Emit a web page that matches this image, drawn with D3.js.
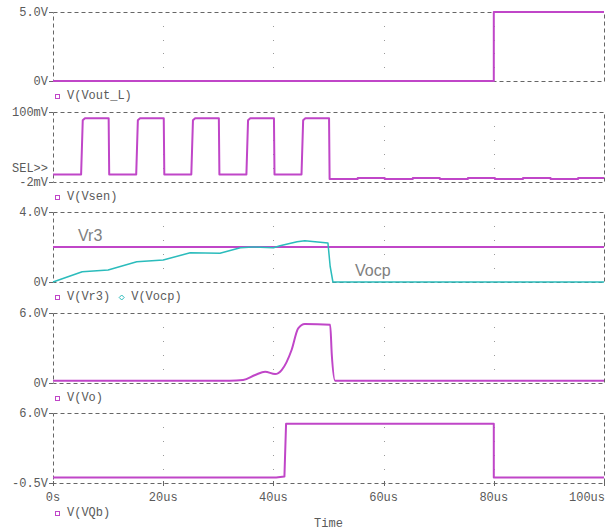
<!DOCTYPE html>
<html lang="en">
<head>
<meta charset="UTF-8">
<title>Transient traces</title>
<style type="text/css">
    body { margin: 0; padding: 0; background: #fff; }
    svg { display: block; }
    .lbl { font-family: "Liberation Mono", "Courier New", monospace; font-size: 12px; fill: #5a5a5a; }
    .frame { fill: none; stroke: #666; stroke-width: 1; stroke-dasharray: 4,3; }
    .trace { fill: none; stroke-linejoin: round; }
    .note { font-family: "Liberation Sans", Arial, sans-serif; font-size: 16px; fill: #808080; }
</style>
</head>
<body>
<script src="https://d3js.org/d3.v7.min.js"></script>
<script type="text/javascript">
    // ---- data (time in us) ----
    var timeTicks = [0, 20, 40, 60, 80, 100];
    var timeLabels = ["0s", "20us", "40us", "60us", "80us", "100us"];

    var voutT = [0, 80, 80, 100];
    var voutV = [0, 0, 5, 5];

    // Vsen in mV
    var vsenT = [0, 5.1, 5.4, 5.8, 10.1, 10.2, 15.1, 15.4, 15.8, 20.1, 20.2, 25.1, 25.4, 25.8, 30.1, 30.2,
        35.1, 35.4, 35.8, 40.1, 40.2, 45.1, 45.4, 45.8, 50.1, 50.2, 55.3, 55.3, 60.2, 60.2, 65.3, 65.3,
        70.2, 70.2, 75.3, 75.3, 80.2, 80.2, 85.3, 85.3, 90.3, 90.3, 95.3, 95.3, 100];
    var vsenV = [9, 9, 88, 91, 91, 9, 9, 88, 91, 91, 9, 9, 88, 91, 91, 9,
        9, 88, 91, 91, 9, 9, 88, 91, 91, 2.5, 2.5, 4, 4, 2.5, 2.5, 4,
        4, 2.5, 2.5, 4, 4, 2.5, 2.5, 4, 4, 2.5, 2.5, 4, 4];

    var vr3T = [0, 100];
    var vr3V = [2, 2];

    var vocpT = [0, 5.3, 10, 15.2, 20, 24.9, 30.3, 34, 36.3, 40, 41.2, 44.3, 45.7, 49.9, 50.3, 50.8, 100];
    var vocpV = [0, 0.59, 0.69, 1.16, 1.26, 1.67, 1.64, 1.96, 2.0, 1.96, 2.07, 2.3, 2.36, 2.23, 0.9, 0, 0];

    var voT = [0, 32.1, 34.5, 36.7, 38.5, 40.3, 41.5, 43.3, 44.5, 45.7, 50.3, 50.6, 51.2, 100];
    var voV = [0.2, 0.2, 0.26, 0.69, 0.97, 0.77, 1.11, 2.83, 4.69, 5.06, 5.0, 2.4, 0.2, 0.2];

    var vqbT = [0, 40.5, 42.0, 42.3, 80, 80, 100];
    var vqbV = [0, 0, 0.1, 5, 5, 0, 0];

    var mag = "#c046c8", cyan = "#2bbcbc";

    function pts(t, v) { return t.map(function (d, i) { return [d, v[i]]; }); }

    var panels = [
        { top: 12, bottom: 81, dom: [0, 5], yl: ["5.0V", "0V"],
          series: [{ d: pts(voutT, voutV), c: mag, w: 2 }],
          legend: [{ name: "V(Vout_L)", mark: "sq", c: mag }] },
        { top: 112, bottom: 182, dom: [-2, 100], yl: ["100mV", "-2mV"],
          series: [{ d: pts(vsenT, vsenV), c: mag, w: 2 }],
          legend: [{ name: "V(Vsen)", mark: "sq", c: mag }] },
        { top: 212, bottom: 282, dom: [0, 4], yl: ["4.0V", "0V"],
          series: [{ d: pts(vr3T, vr3V), c: mag, w: 2 }, { d: pts(vocpT, vocpV), c: cyan, w: 1.5 }],
          legend: [{ name: "V(Vr3)", mark: "sq", c: mag }, { name: "V(Vocp)", mark: "dm", c: cyan }] },
        { top: 313, bottom: 383, dom: [0, 6], yl: ["6.0V", "0V"], curve: true,
          series: [{ d: pts(voT, voV), c: mag, w: 2 }],
          legend: [{ name: "V(Vo)", mark: "sq", c: mag }] },
        { top: 413, bottom: 483, dom: [-0.5, 6], yl: ["6.0V", "-0.5V"],
          series: [{ d: pts(vqbT, vqbV), c: mag, w: 2 }],
          legend: [{ name: "V(VQb)", mark: "sq", c: mag }] }
    ];

    var width = 610, height = 531;
    var svg = d3.select("body").append("svg").attr("width", width).attr("height", height);

    var x = d3.scaleLinear().domain([0, 100]).range([53, 604]);

    panels.forEach(function (p, pi) {
        var y = d3.scaleLinear().domain(p.dom).range([p.bottom, p.top]);
        var g = svg.append("g");

        // grid dots on vertical time lines
        timeTicks.slice(1, 5).forEach(function (t) {
            [0.2, 0.4, 0.6, 0.8].forEach(function (f) {
                g.append("rect").attr("x", Math.round(x(t))).attr("y", Math.round(p.top + f * (p.bottom - p.top)))
                    .attr("width", 1).attr("height", 1).attr("fill", "#999");
            });
        });

        // dashed frame
        g.append("rect").attr("class", "frame")
            .attr("x", x(0) + 0.5).attr("y", p.top + 0.5)
            .attr("width", x(100) - x(0)).attr("height", p.bottom - p.top);

        // y ticks and labels
        [p.top, p.bottom].forEach(function (yy, i) {
            g.append("line").attr("x1", 49).attr("x2", 53).attr("y1", yy + 0.5).attr("y2", yy + 0.5).attr("stroke", "#666");
            g.append("text").attr("class", "lbl").attr("x", 48).attr("y", yy + 4).attr("text-anchor", "end").text(p.yl[i]);
        });

        var line = d3.line().x(function (d) { return x(d[0]); }).y(function (d) { return y(d[1]); });
        if (p.curve) line.curve(d3.curveMonotoneX);

        p.series.forEach(function (s) {
            g.append("path").attr("class", "trace").attr("d", line(s.d))
                .attr("stroke", s.c).attr("stroke-width", s.w);
        });

        var ly = pi === 4 ? p.bottom + 33 : p.bottom + 18;
        var lx = 55;
        p.legend.forEach(function (l) {
            if (l.mark === "sq") {
                g.append("rect").attr("x", lx + 0.5).attr("y", ly - 4.5).attr("width", 4).attr("height", 4)
                    .attr("fill", "none").attr("stroke", l.c);
            } else {
                g.append("path").attr("d", "M" + (lx + 2.5) + "," + (ly - 5) + "l2.5,2.5l-2.5,2.5l-2.5,-2.5z")
                    .attr("fill", "none").attr("stroke", l.c);
            }
            g.append("text").attr("class", "lbl").attr("x", lx + 12).attr("y", ly).text(l.name);
            lx += 12 + l.name.length * 7.2 + 9;
        });
    });

    // SEL>> marker on the Vsen panel
    svg.append("text").attr("class", "lbl").attr("x", 48).attr("y", 172).attr("text-anchor", "end").text("SEL>>");

    // time axis ticks on the bottom panel
    var bottom = panels[4].bottom;
    timeTicks.forEach(function (t, i) {
        var last = i === timeTicks.length - 1;
        svg.append("line").attr("x1", Math.round(x(t)) + 0.5).attr("x2", Math.round(x(t)) + 0.5)
            .attr("y1", bottom - 2).attr("y2", bottom + 3).attr("stroke", "#666");
        svg.append("text").attr("class", "lbl").attr("x", last ? 605 : x(t)).attr("y", bottom + 18)
            .attr("text-anchor", last ? "end" : "middle").text(timeLabels[i]);
    });
    svg.append("text").attr("class", "lbl").attr("x", (x(0) + x(100)) / 2).attr("y", 527)
        .attr("text-anchor", "middle").text("Time");

    // trace name annotations
    svg.append("text").attr("class", "note").attr("x", 78).attr("y", 241).text("Vr3");
    svg.append("text").attr("class", "note").attr("x", 355).attr("y", 276).text("Vocp");
</script>
</body>
</html>
